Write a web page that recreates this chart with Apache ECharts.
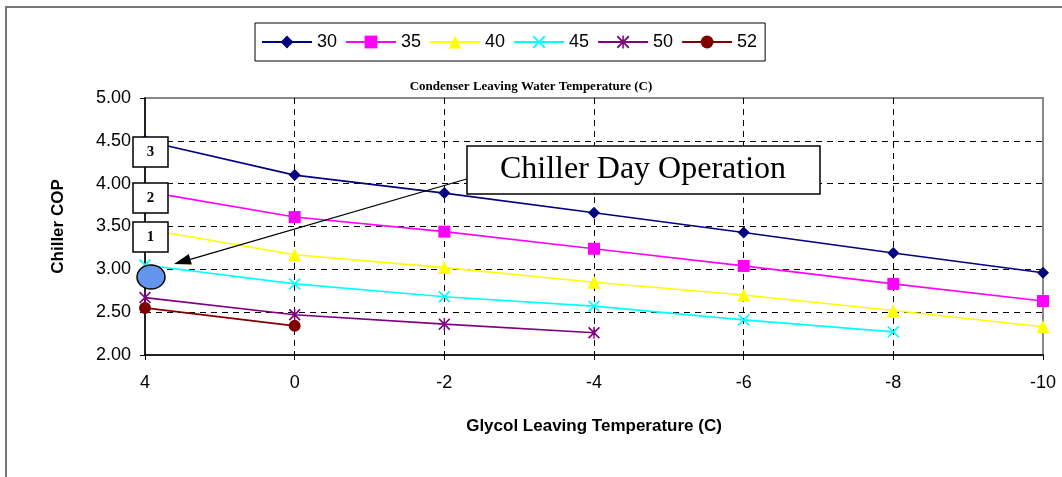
<!DOCTYPE html>
<html>
<head>
<meta charset="utf-8">
<title>Chiller COP</title>
<script src="https://cdn.jsdelivr.net/npm/echarts@6/dist/echarts.min.js"></script>
<style>
  html, body { margin: 0; padding: 0; background: #fff; }
  #mycharts { width: 1062px; height: 477px; }
</style>
</head>
<body>
<div id="mycharts"></div>
<script>
// glycol leaving temperature (C), x categories
var glycolTemps = ["4", "0", "-2", "-4", "-6", "-8", "-10"];
// condenser leaving water temperature (C), one line each
var condenserTemps = ["30", "35", "40", "45", "50", "52"];
// chiller COP
var cop30 = [4.50, 4.10, 3.89, 3.66, 3.43, 3.19, 2.96];
var cop35 = [3.91, 3.61, 3.44, 3.24, 3.04, 2.83, 2.63];
var cop40 = [3.47, 3.17, 3.02, 2.85, 2.70, 2.52, 2.33];
var cop45 = [3.05, 2.83, 2.68, 2.57, 2.41, 2.27];
var cop50 = [2.67, 2.47, 2.36, 2.26];
var cop52 = [2.55, 2.34];

var chartDom = document.getElementById("mycharts");
var myChart = echarts.init(chartDom);
var option;

var colors = ["#000080", "#FF00FF", "#FFFF00", "#00FFFF", "#800080", "#800000"];
var crossPath = "path://M0,1L1,0L5,4L9,0L10,1L6,5L10,9L9,10L5,6L1,10L0,9L4,5Z";
var starPath = "path://M0,1L1,0L5,4L9,0L10,1L6,5L10,9L9,10L5,6L1,10L0,9L4,5Z M4.4,0L5.6,0L5.6,10L4.4,10Z";
var symbols = ["diamond", "rect", "triangle", crossPath, starPath, "circle"];
var symbolSizes = [12, 12, 13, 12, 12, 12];
var allData = [cop30, cop35, cop40, cop45, cop50, cop52];

var series = condenserTemps.map(function (name, i) {
  return {
    name: name,
    type: "line",
    data: allData[i],
    symbol: symbols[i],
    symbolSize: symbolSizes[i],
    showAllSymbol: true,
    lineStyle: { color: colors[i], width: 1.6 },
    itemStyle: { color: colors[i] }
  };
});

// arrow from the label box down to the blue ellipse
var arrowFrom = [470, 178];
var arrowTo = [174, 264];
var dx = arrowTo[0] - arrowFrom[0], dy = arrowTo[1] - arrowFrom[1];
var len = Math.sqrt(dx * dx + dy * dy);
var ux = dx / len, uy = dy / len;
var headLen = 17, headW = 5.5;
var bx = arrowTo[0] - ux * headLen, by = arrowTo[1] - uy * headLen;

var boxStyle = { fill: "#fff", stroke: "#000", lineWidth: 1.5 };
var numFont = "bold 15px 'Liberation Serif'";

option = {
  animation: false,
  color: colors,
  title: {
    text: "Condenser Leaving Water Temperature (C)",
    left: "center",
    top: 80,
    padding: 0,
    textStyle: { fontFamily: "Liberation Serif", fontWeight: "bold", fontSize: 13, color: "#000" }
  },
  legend: {
    data: condenserTemps,
    left: 255,
    top: 23,
    padding: [10, 8, 10, 6],
    itemWidth: 50,
    itemHeight: 16,
    itemGap: 8,
    borderColor: "#000",
    borderWidth: 1,
    backgroundColor: "#fff",
    textStyle: { fontFamily: "Liberation Sans", fontSize: 18, color: "#000" }
  },
  grid: {
    left: 145,
    right: 19,
    top: 98,
    bottom: 122,
    show: true,
    borderColor: "#888",
    borderWidth: 2,
    backgroundColor: "#fff"
  },
  xAxis: {
    type: "category",
    data: glycolTemps,
    boundaryGap: false,
    name: "Glycol Leaving Temperature (C)",
    nameLocation: "middle",
    nameGap: 63,
    nameTextStyle: { fontFamily: "Liberation Sans", fontWeight: "bold", fontSize: 17, color: "#000" },
    axisLine: { lineStyle: { color: "#000", width: 1.5 } },
    axisTick: { length: 5, lineStyle: { color: "#000" } },
    axisLabel: { margin: 19, fontFamily: "Liberation Sans", fontSize: 18, color: "#000" },
    splitLine: {
      show: true,
      showMinLine: false,
      showMaxLine: false,
      lineStyle: { color: "#000", type: [6, 5], width: 1 }
    }
  },
  yAxis: {
    type: "value",
    min: 2,
    max: 5,
    interval: 0.5,
    name: "Chiller COP",
    nameLocation: "middle",
    nameGap: 78,
    nameMoveOverlap: false,
    nameTextStyle: { fontFamily: "Liberation Sans", fontWeight: "bold", fontSize: 17, color: "#000" },
    axisLine: { show: true, lineStyle: { color: "#000", width: 1.5 } },
    axisTick: { show: true, length: 5, lineStyle: { color: "#000" } },
    axisLabel: {
      margin: 14,
      fontFamily: "Liberation Sans",
      fontSize: 18,
      color: "#000",
      formatter: function (v) { return v.toFixed(2); }
    },
    splitLine: {
      show: true,
      showMinLine: false,
      showMaxLine: false,
      lineStyle: { color: "#000", type: [6, 5], width: 1 }
    }
  },
  graphic: [
    // outer chart frame
    { type: "rect", z: 10, silent: true, shape: { x: 6, y: 7, width: 1100, height: 500 },
      style: { fill: null, stroke: "#777", lineWidth: 2 } },
    // arrow
    { type: "line", z: 10, shape: { x1: arrowFrom[0], y1: arrowFrom[1], x2: bx, y2: by },
      style: { stroke: "#000", lineWidth: 1.3 } },
    { type: "polygon", z: 10,
      shape: { points: [arrowTo, [bx + uy * headW, by - ux * headW], [bx - uy * headW, by + ux * headW]] },
      style: { fill: "#000" } },
    // label box
    { type: "rect", z: 11, shape: { x: 467, y: 146, width: 353, height: 48 }, style: boxStyle },
    { type: "text", z: 12, x: 643, y: 170,
      style: { text: "Chiller Day Operation", font: "32px 'Liberation Serif'", fill: "#000",
        align: "center", verticalAlign: "middle" } },
    // numbered boxes
    { type: "rect", z: 11, shape: { x: 133, y: 137, width: 35, height: 30 }, style: boxStyle },
    { type: "text", z: 12, x: 150.5, y: 152,
      style: { text: "3", font: numFont, fill: "#000", align: "center", verticalAlign: "middle" } },
    { type: "rect", z: 11, shape: { x: 133, y: 183, width: 35, height: 30 }, style: boxStyle },
    { type: "text", z: 12, x: 150.5, y: 198,
      style: { text: "2", font: numFont, fill: "#000", align: "center", verticalAlign: "middle" } },
    { type: "rect", z: 11, shape: { x: 133, y: 222, width: 35, height: 30 }, style: boxStyle },
    { type: "text", z: 12, x: 150.5, y: 237,
      style: { text: "1", font: numFont, fill: "#000", align: "center", verticalAlign: "middle" } },
    // blue ellipse
    { type: "ellipse", z: 11, shape: { cx: 151, cy: 277, rx: 14, ry: 12 },
      style: { fill: "#6495ED", stroke: "#000", lineWidth: 1.5 } }
  ],
  series: series
};

option && myChart.setOption(option);
</script>
</body>
</html>
